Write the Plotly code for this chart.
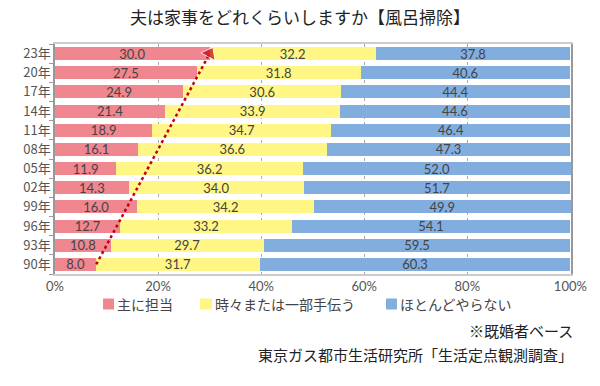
import plotly.graph_objects as go

years = ["90年", "93年", "96年", "99年", "02年", "05年", "08年", "11年", "14年", "17年", "20年", "23年"]
mainly = [8.0, 10.8, 12.7, 16.0, 14.3, 11.9, 16.1, 18.9, 21.4, 24.9, 27.5, 30.0]
sometimes = [31.7, 29.7, 33.2, 34.2, 34.0, 36.2, 36.6, 34.7, 33.9, 30.6, 31.8, 32.2]
rarely = [60.3, 59.5, 54.1, 49.9, 51.7, 52.0, 47.3, 46.4, 44.6, 44.4, 40.6, 37.8]
series_names = ["主に担当", "時々または一部手伝う", "ほとんどやらない"]
colors = ["#F0868F", "#FFF685", "#82AEDF"]
tick_vals = [0, 20, 40, 60, 80, 100]
tick_text = ["0%", "20%", "40%", "60%", "80%", "100%"]

font = "Noto Sans CJK JP"
fig = go.Figure()
for name, vals, c in zip(series_names, [mainly, sometimes, rarely], colors):
    fig.add_trace(go.Bar(
        y=years, x=vals, name=name, orientation="h",
        marker=dict(color=c, line=dict(width=0)),
        text=[f"{v:.1f}" for v in vals], textposition="inside",
        insidetextanchor="middle", textangle=0,
        textfont=dict(size=13, color="#444444", family="Lato"),
        hoverinfo="skip", showlegend=False,
    ))

# trend arrow
fig.add_trace(go.Scatter(
    x=[mainly[0], mainly[-1]], y=[years[0], years[-1]],
    mode="lines+markers",
    line=dict(color="#C00010", width=2.5, dash="dot"),
    marker=dict(symbol=["circle", "triangle-up"], size=[0, 14], color="#C00010",
                angleref="previous"),
    showlegend=False, hoverinfo="skip", cliponaxis=False,
))

# custom legend (square directly followed by its label)
legend_sq_x = [(0.0930, 0.1143), (0.2810, 0.3043), (0.6415, 0.6628)]
legend_txt_x = [0.1163, 0.3062, 0.6647]
for (x0, x1), tx, name, c in zip(legend_sq_x, legend_txt_x, series_names, colors):
    fig.add_shape(type="rect", xref="paper", yref="paper", x0=x0, x1=x1,
                  y0=-0.1543, y1=-0.1065, fillcolor=c, line=dict(width=0))
    fig.add_annotation(text=name, xref="paper", yref="paper", x=tx, y=-0.13,
                       xanchor="left", yanchor="middle", showarrow=False,
                       font=dict(size=14, color="#444444"))

fig.update_layout(
    width=600, height=386,
    barmode="stack", bargap=0.32,
    paper_bgcolor="white", plot_bgcolor="white",
    margin=dict(l=55, r=29, t=44, b=112, autoexpand=False),
    font=dict(family=font, color="#444444", size=12),
    title=dict(text="夫は家事をどれくらいしますか【風呂掃除】", x=0.5, xanchor="center",
               y=0.953, yanchor="middle", automargin=False,
               font=dict(size=17, color="#222222", family=font)),
    uniformtext=dict(minsize=12, mode="show"),
    showlegend=False,
    xaxis=dict(range=[0, 100.12], tickvals=tick_vals, ticktext=tick_text, automargin=False,
               showgrid=True, gridcolor="#AAAAAA", griddash="dot", gridwidth=1,
               zeroline=False, showline=True, linecolor="#CCCCCC", mirror=True,
               linewidth=1.5, tickfont=dict(size=13, color="#555555", family="Lato"),
               fixedrange=True),
    yaxis=dict(categoryorder="array", categoryarray=years, range=[-0.5, len(years) - 0.5],
               showline=True, automargin=False,
               linecolor="#999999", linewidth=1.5, mirror=True,
               ticks="outside", tickson="boundaries", ticklen=4, tickcolor="#999999",
               tickfont=dict(size=13, color="#555555"), fixedrange=True),
)

fig.add_annotation(text="※既婚者ベース", xref="paper", yref="paper", x=1.008, y=-0.245,
                   xanchor="right", yanchor="middle", showarrow=False,
                   font=dict(size=15, color="#222222"))
fig.add_annotation(text="東京ガス都市生活研究所「生活定点観測調査」", xref="paper", yref="paper",
                   x=1.008, y=-0.35, xanchor="right", yanchor="middle", showarrow=False,
                   font=dict(size=15, color="#222222"))

fig.write_html("out.html", post_script="document.body.style.margin='0';",
               config={"displayModeBar": False})
